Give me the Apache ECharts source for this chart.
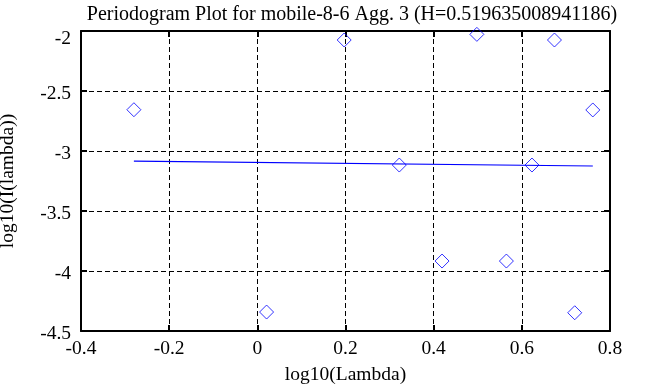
<!DOCTYPE html>
<html>
<head>
<meta charset="utf-8">
<script src="https://cdn.jsdelivr.net/npm/echarts@6/dist/echarts.min.js"></script>
<style>
html,body{margin:0;padding:0;background:#fff;}
#chart{width:653px;height:387px;}
</style>
</head>
<body>
<div id="chart"></div>
<script>
// Periodogram points (log10 lambda, log10 I(lambda))
var logLambda = [-0.280, 0.021, 0.197, 0.322, 0.419, 0.498, 0.565, 0.623, 0.674, 0.720, 0.761];
var logI = [-2.656, -4.342, -2.075, -3.117, -3.917, -2.028, -3.917, -3.117, -2.075, -4.348, -2.658];
// Fitted line end points
var fitX = [-0.280, 0.761];
var fitY = [-3.084, -3.125];
var xTicks = {min: -0.4, max: 0.8, interval: 0.2};
var yTicks = {min: -4.5, max: -2, interval: 0.5};
var titleText = 'Periodogram Plot for mobile-8-6 Agg. 3 (H=0.519635008941186)';

var FONT = '"Liberation Serif", "DejaVu Serif", serif';
var points = logLambda.map(function (x, i) { return [x, logI[i]]; });
var fit = fitX.map(function (x, i) { return [x, fitY[i]]; });

var chart = echarts.init(document.getElementById('chart'), null, {renderer: 'canvas'});

function baseAxis(extra) {
  var a = {
    axisLine: {show: true, onZero: false, lineStyle: {color: '#000', width: 2}},
    axisTick: {show: true, inside: true, length: 6, lineStyle: {color: '#000', width: 2}},
    splitLine: {show: false},
    axisLabel: {show: false}
  };
  for (var k in extra) a[k] = extra[k];
  return a;
}

var option = {
  backgroundColor: '#fff',
  animation: false,
  title: {
    text: titleText,
    left: 347, textAlign: 'center',
    top: 0,
    textStyle: {fontFamily: FONT, fontSize: 20, fontWeight: 'normal', color: '#000'}
  },
  grid: {left: 81, right: 43, top: 31, bottom: 56, containLabel: false, outerBoundsMode: 'none'},
  xAxis: [
    baseAxis({
      type: 'value', position: 'bottom',
      min: xTicks.min, max: xTicks.max, interval: xTicks.interval,
      name: 'log10(Lambda)', nameLocation: 'middle', nameGap: 34,
      nameTextStyle: {fontFamily: FONT, fontSize: 19.5, color: '#000'},
      axisLabel: {show: true, margin: 8, fontFamily: FONT, fontSize: 19.5, color: '#000'},
      splitLine: {show: true, lineStyle: {color: '#000', width: 1, type: [5, 3]}}
    }),
    baseAxis({
      type: 'value', position: 'top',
      min: xTicks.min, max: xTicks.max, interval: xTicks.interval
    })
  ],
  yAxis: [
    baseAxis({
      type: 'value', position: 'left',
      min: yTicks.min, max: yTicks.max, interval: yTicks.interval,
      name: 'log10(I(lambda))', nameLocation: 'middle', nameGap: 63,
      nameTextStyle: {fontFamily: FONT, fontSize: 19.5, color: '#000'},
      axisLabel: {
        show: true, margin: 10, fontFamily: FONT, fontSize: 19.5, color: '#000',
        formatter: function (v) { return v === yTicks.max ? '{t|' + v + '}' : '{n|' + v + '}'; },
        rich: {
          t: {fontFamily: FONT, fontSize: 19.5, color: '#000', padding: [15, 0, 0, 0]},
          n: {fontFamily: FONT, fontSize: 19.5, color: '#000', padding: [5, 0, 0, 0]}
        }
      },
      splitLine: {show: true, lineStyle: {color: '#000', width: 1, type: [5, 3]}}
    }),
    baseAxis({
      type: 'value', position: 'right',
      min: yTicks.min, max: yTicks.max, interval: yTicks.interval
    })
  ],
  series: [
    {
      type: 'scatter', xAxisIndex: 0, yAxisIndex: 0,
      data: points, symbol: 'diamond', symbolSize: 14,
      itemStyle: {color: 'rgba(0,0,0,0)', borderColor: '#0000ff', borderWidth: 1}
    },
    {
      type: 'line', xAxisIndex: 0, yAxisIndex: 0,
      data: fit, symbol: 'none',
      lineStyle: {color: '#0000ff', width: 1.2}
    }
  ]
};
chart.setOption(option);
</script>
</body>
</html>
